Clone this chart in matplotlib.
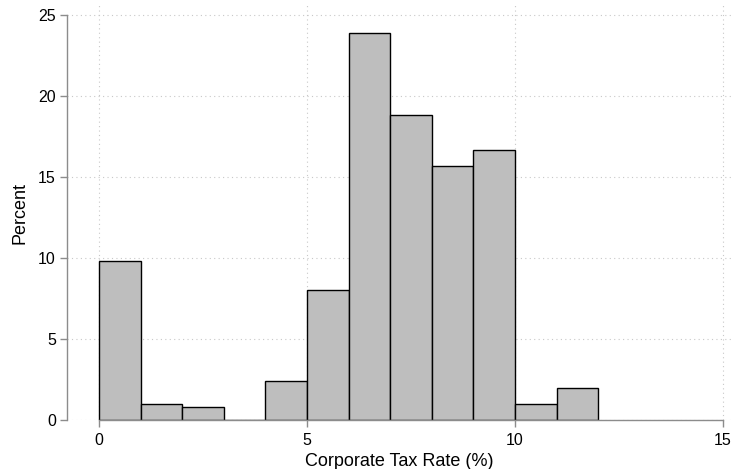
import matplotlib
matplotlib.use("Agg")
import matplotlib.pyplot as plt
import numpy as np

plt.rcParams['font.family'] = ['Liberation Sans', 'DejaVu Sans']

# Histogram of corporate tax rates, unit-width bins
bin_edges = [0, 1, 2, 3, 4, 5, 6, 7, 8, 9, 10, 11, 12]
percent = [9.8, 1.0, 0.8, 0.0, 2.4, 8.02, 23.9, 18.83, 15.68, 16.67, 1.0, 1.98]
x_ticks = [0, 5, 10, 15]
y_ticks = [0, 5, 10, 15, 20, 25]

fig = plt.figure(figsize=(7.32, 4.69), dpi=100)
ax = fig.add_axes([67 / 732, 49 / 469, 664 / 732, 415 / 469])

edges = np.array(bin_edges)
ax.bar(edges[:-1], percent, width=np.diff(edges), align='edge',
       color='#bebebe', edgecolor='black', linewidth=1.0, zorder=3)

ax.set_xlim(-0.77, 15.19)
ax.set_ylim(0, 25.6)
ax.set_xticks(x_ticks)
ax.set_yticks(y_ticks)

ax.grid(True, color='#c8c8c8', linestyle=(0, (1, 3)), linewidth=0.8, zorder=0)

for side in ('top', 'right'):
    ax.spines[side].set_visible(False)
ax.spines['bottom'].set_bounds(0, 15)
ax.spines['left'].set_bounds(0, 25)
for side in ('bottom', 'left'):
    ax.spines[side].set_color('#8c8c8c')
    ax.spines[side].set_linewidth(1.0)
    ax.spines[side].set_zorder(4)

ax.tick_params(axis='both', colors='#8c8c8c', labelcolor='black',
               length=5, width=1.0, labelsize=11.5)
ax.tick_params(axis='y', pad=3)
ax.tick_params(axis='x', pad=4)

ax.set_xlabel('Corporate Tax Rate (%)', fontsize=13, labelpad=4)
ax.set_ylabel('Percent', fontsize=13, labelpad=7)

fig.savefig('out.png', dpi=100)
